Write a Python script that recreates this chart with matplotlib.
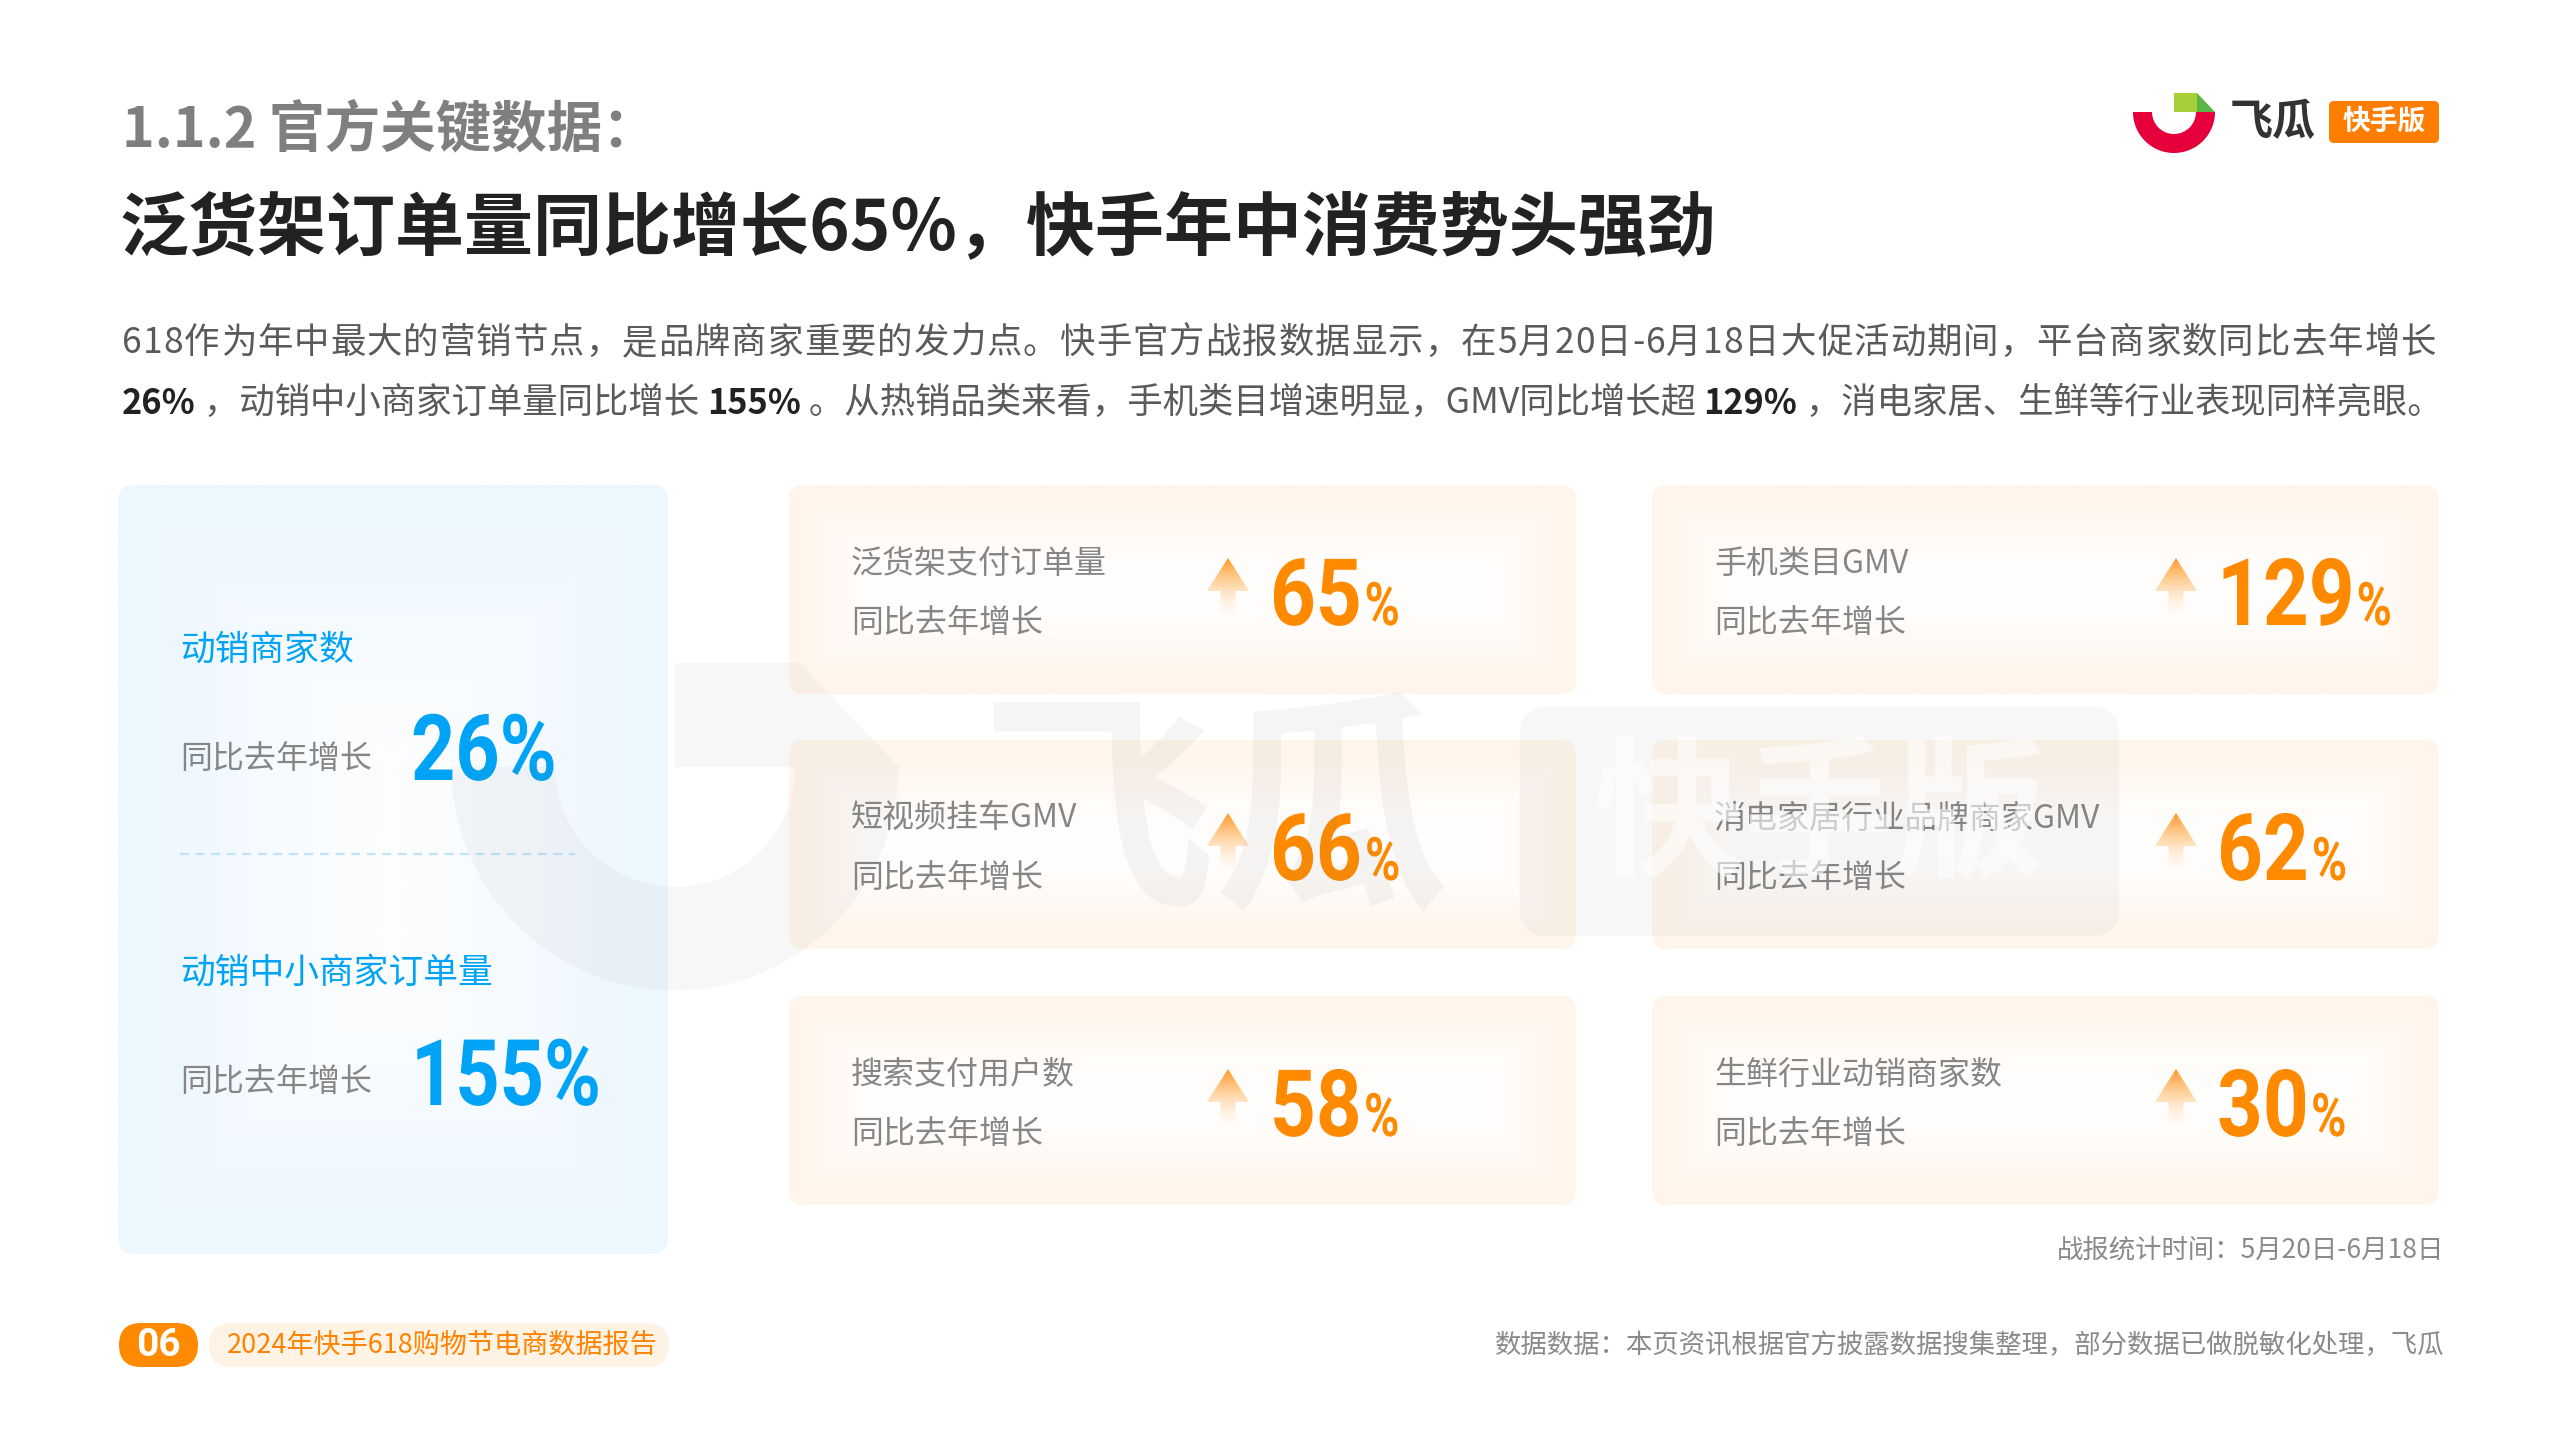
import matplotlib
matplotlib.use("Agg")
import matplotlib.pyplot as plt
from matplotlib.patches import FancyBboxPatch, Polygon, Wedge, Rectangle, PathPatch
from matplotlib.textpath import TextPath
from matplotlib.font_manager import FontProperties
from matplotlib.transforms import Affine2D
from matplotlib.colors import to_rgb
import numpy as np

plt.rcParams['font.family'] = ['Noto Sans CJK SC', 'DejaVu Sans']

# ---------------- data ----------------
section_title = "1.1.2 官方关键数据："
headline = "泛货架订单量同比增长65%，快手年中消费势头强劲"
para_line1 = "618作为年中最大的营销节点，是品牌商家重要的发力点。快手官方战报数据显示，在5月20日-6月18日大促活动期间，平台商家数同比去年增长"
para_line2 = [("26%", True), (" ，动销中小商家订单量同比增长 ", False), ("155%", True),
              (" 。从热销品类来看，手机类目增速明显，GMV同比增长超 ", False), ("129%", True),
              (" ，消电家居、生鲜等行业表现同样亮眼。", False)]
left_labels = ["动销商家数", "动销中小商家订单量"]
left_values = [26, 155]
card_labels = ["泛货架支付订单量", "手机类目GMV", "短视频挂车GMV", "消电家居行业品牌商家GMV",
               "搜索支付用户数", "生鲜行业动销商家数"]
card_values = [65, 129, 66, 62, 58, 30]
sub_label = "同比去年增长"
period_note = "战报统计时间：5月20日-6月18日"
source_note = "数据数据：本页资讯根据官方披露数据搜集整理，部分数据已做脱敏化处理，飞瓜"
page_no = "06"
report_name = "2024年快手618购物节电商数据报告"

# ---------------- canvas ----------------
W, H = 2560, 1440
fig = plt.figure(figsize=(25.6, 14.4), dpi=100)
ax = fig.add_axes([0, 0, 1, 1])
ax.set_xlim(0, W)
ax.set_ylim(H, 0)
ax.axis('off')
renderer = fig.canvas.get_renderer()

CJK = ['Noto Sans CJK SC', 'DejaVu Sans']
NUM_PROP = FontProperties(family=['Roboto', 'DejaVu Sans'], weight='bold')
ORANGE = '#ff8a00'
BLUE = '#00a3f5'
GRAY = '#868686'
PARA = '#5a5a5a'


def width_of(t):
    return t.get_window_extent(renderer).width


def cond_text(x, baseline, s, size, color, sx=0.82, z=3):
    """Condensed (DIN-like) text drawn as a path; returns right edge x."""
    tp = TextPath((0, 0), s, size=size, prop=NUM_PROP)
    path = Affine2D().scale(sx, -1).translate(x, baseline).transform_path(tp)
    ax.add_patch(PathPatch(path, fc=color, ec='none', lw=0, zorder=z))
    return path.get_extents().x1


def soft_box(x0, y0, w, h, r, edge, center, fall, z):
    patch = FancyBboxPatch((x0, y0), w, h, boxstyle=f"round,pad=0,rounding_size={r}",
                           fc='none', ec='none', zorder=z)
    ax.add_patch(patch)
    nx, ny = max(int(w / 3), 2), max(int(h / 3), 2)
    X, Y = np.meshgrid(np.linspace(0, w, nx), np.linspace(0, h, ny))
    d = np.minimum.reduce([X, w - X, Y, h - Y])
    s = np.clip(d / fall, 0, 1)
    s = s * s * (3 - 2 * s)
    e, c = np.array(to_rgb(edge)), np.array(to_rgb(center))
    img = e * (1 - s)[..., None] + c * s[..., None]
    im = ax.imshow(img, extent=(x0, x0 + w, y0 + h, y0), zorder=z,
                   interpolation='bilinear', aspect='auto')
    im.set_clip_path(patch)


def grad_arrow(cx, ytop, ybot, z):
    hh, hw, sw = 33, 21, 7.5
    pts = [(cx, ytop), (cx + hw, ytop + hh), (cx + sw, ytop + hh), (cx + sw, ybot),
           (cx - sw, ybot), (cx - sw, ytop + hh), (cx - hw, ytop + hh)]
    poly = Polygon(pts, closed=True, fc='none', ec='none', zorder=z)
    ax.add_patch(poly)
    n = 100
    a = np.linspace(1, 0, n) ** 1.2
    img = np.zeros((n, 2, 4))
    img[..., 0] = 1.0
    img[..., 1] = np.linspace(0.60, 0.80, n)[:, None]
    img[..., 2] = np.linspace(0.15, 0.55, n)[:, None]
    img[..., 3] = a[:, None]
    im = ax.imshow(img, extent=(cx - hw, cx + hw, ybot, ytop), zorder=z,
                   interpolation='bilinear', aspect='auto')
    im.set_clip_path(poly)


def draw_logo(ox, oy, s, mono=False, z=10):
    def P(x, y):
        return (ox + x * s, oy + y * s)
    red, lime, dgreen, dark, box = '#e5003c', '#a7cf38', '#5bb546', '#333333', '#ff7d00'
    if mono:
        red = lime = dgreen = dark = box = '#6e6e6e'
    al = 0.05 if mono else 1.0
    ax.add_patch(Wedge(P(0, 0), 41 * s, 0, 180, width=19 * s, fc=red, ec='none', alpha=al, zorder=z))
    ax.add_patch(Rectangle(P(0, -19), 23 * s, 19 * s, fc=lime, ec='none', alpha=al, zorder=z))
    ax.add_patch(Polygon([P(23, -19), P(41, 0), P(23, 0)], closed=True, fc=dgreen, ec='none',
                         alpha=al, zorder=z))
    ax.text(*P(56, 10), "飞瓜", fontsize=31 * s, color=dark, fontweight='bold', ha='left',
            va='center', alpha=(0.065 if mono else 1.0), zorder=z, family=CJK)
    bx, by = P(155, -11)
    ax.add_patch(FancyBboxPatch((bx, by), 110 * s, 42 * s,
                                boxstyle=f"round,pad=0,rounding_size={5 * s}",
                                fc=box, ec='none', alpha=al, zorder=z))
    ax.text(*P(210, 10), "快手版", fontsize=20 * s, color='white', fontweight='bold',
            ha='center', va='center', alpha=(0.6 if mono else 1.0), zorder=z + 0.1, family=CJK)


# ---------------- header ----------------
ax.text(122, 130, section_title, fontsize=40, fontweight='bold', color='#7f7f7f',
        ha='left', va='center', family=CJK)
ax.text(120, 229, headline, fontsize=49.7, fontweight='bold', color='#222222',
        ha='left', va='center', family=CJK)
draw_logo(2174, 112, 1.0)

# paragraph: first line justified to the reference width, last line natural
target_w = 2314
probe = ax.text(0, -500, para_line1, fontsize=26, family=CJK)
fs_para = 26 * target_w / width_of(probe) * 0.97
probe.remove()

chars = list(para_line1)
widths = []
for ch_ in chars:
    p = ax.text(0, -500, ch_, fontsize=fs_para, family=CJK)
    widths.append(width_of(p))
    p.remove()
gap = (target_w - sum(widths)) / (len(chars) - 1)
x = 122
for ch_, w_ in zip(chars, widths):
    ax.text(x, 343, ch_, fontsize=fs_para, color=PARA, ha='left', va='center', family=CJK)
    x += w_ + gap

x = 122
for seg, bold in para_line2:
    t = ax.text(x, 403, seg, fontsize=fs_para * (0.97 if bold else 1.0),
                color='#222222' if bold else PARA,
                fontweight='bold' if bold else 'normal', ha='left', va='center', family=CJK)
    x += width_of(t)

# ---------------- left blue card ----------------
soft_box(118, 485, 550, 769, 16, '#edf7fe', '#fbfdff', 260, 1)
ax.plot([180, 575], [854, 854], color='#bfe3fb', lw=1.6, ls=(0, (4, 3)), zorder=2)
left_rows = [(650, 759, 780), (973, 1082, 1105)]
for (ly, sy, by), lab, val in zip(left_rows, left_labels, left_values):
    ax.text(180, ly, lab, fontsize=25, color=BLUE, ha='left', va='center', family=CJK, zorder=3)
    ax.text(180, sy, sub_label, fontsize=23, color=GRAY, ha='left', va='center', family=CJK, zorder=3)
    cond_text(411, by, f"{val}%", 92, BLUE, sx=0.84)

# ---------------- orange cards ----------------
col_x = [789, 1652]
row_y = [485, 740, 996]
cw, ch = 787, 209
arrow_rel = [439, 524]
num_rel = [481, 565]
for i, (lab, val) in enumerate(zip(card_labels, card_values)):
    r, c = divmod(i, 2)
    x0, y0 = col_x[c], row_y[r]
    soft_box(x0, y0, cw, ch, 14, '#fff5eb', '#fffefd', 95, 1)
    ax.text(x0 + 62, y0 + 79, lab, fontsize=23, color=GRAY, ha='left', va='center',
            family=CJK, zorder=3)
    ax.text(x0 + 62, y0 + 138, sub_label, fontsize=23, color=GRAY, ha='left', va='center',
            family=CJK, zorder=3)
    grad_arrow(x0 + arrow_rel[c], y0 + 73, y0 + 132, 3)
    xr = cond_text(x0 + num_rel[c], y0 + 140, f"{val}", 93, ORANGE, sx=0.86)
    cond_text(xr + 6, y0 + 140, "%", 60, ORANGE, sx=0.8)

# ---------------- watermark ----------------
draw_logo(675, 767, 5.45, mono=True, z=6)

# ---------------- footer ----------------
ax.text(2444, 1250, period_note, fontsize=19, color='#8a8a8a', ha='right', va='center', family=CJK)
ax.text(2444, 1345, source_note, fontsize=19, color='#8a8a8a', ha='right', va='center', family=CJK)
ax.add_patch(FancyBboxPatch((209, 1323), 460, 44, boxstyle="round,pad=0,rounding_size=22",
                            fc='#fff3e6', ec='none', zorder=2))
ax.add_patch(FancyBboxPatch((119, 1323), 79, 44, boxstyle="round,pad=0,rounding_size=22",
                            fc=ORANGE, ec='none', zorder=3))
ax.text(158.5, 1346, page_no, fontsize=28, fontweight='bold', color='white', ha='center',
        va='center', family=['Roboto', 'DejaVu Sans'], zorder=4)
ax.text(227, 1345, report_name, fontsize=19.5, color='#ff8200', ha='left', va='center',
        family=CJK, zorder=3)

ax.set_xlim(0, W)
ax.set_ylim(H, 0)
fig.savefig("out.png", dpi=100, facecolor='white')
